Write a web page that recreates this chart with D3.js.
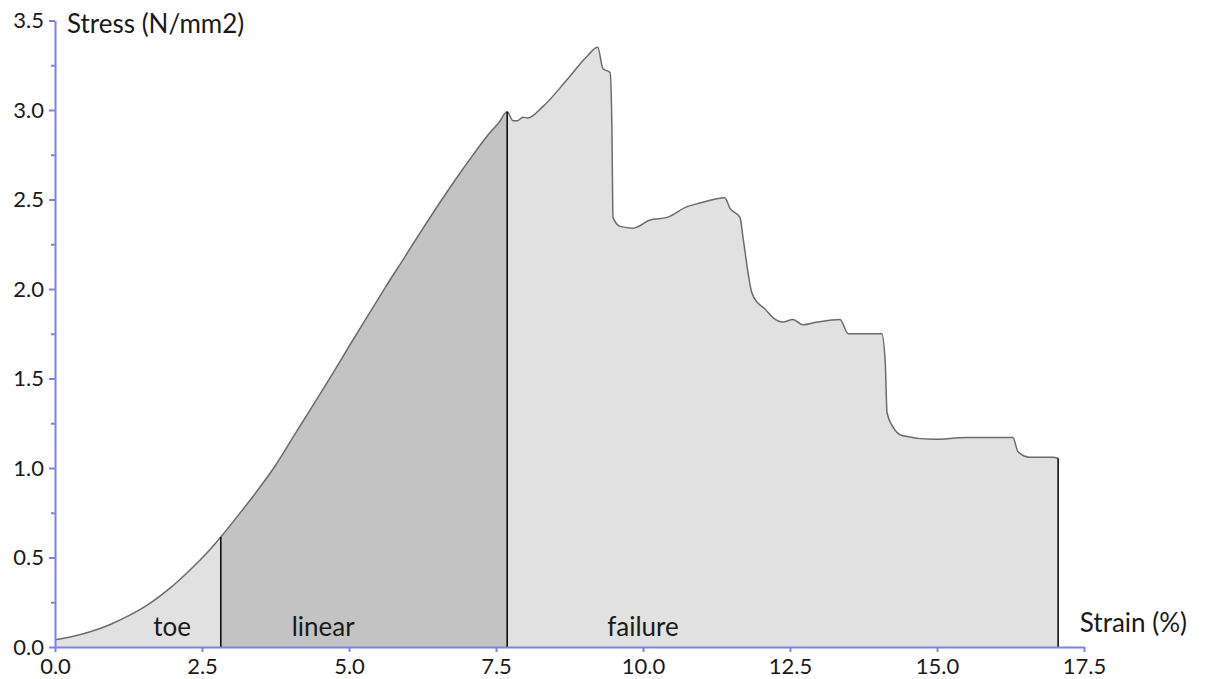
<!DOCTYPE html>
<html>
<head>
<meta charset="utf-8">
<script src="https://cdn.jsdelivr.net/npm/d3@7"></script>
<style>
  html, body { margin: 0; padding: 0; background: #fff; }
  svg { display: block; }
  text { font-family: Lato, "Open Sans", sans-serif; fill: #1a1a1a; }
</style>
</head>
<body>
<svg id="chart" width="1206" height="679"></svg>
<script>
// ---- data ----
const strain = [0.0, 0.26, 0.60, 0.94, 1.28, 1.62, 1.96, 2.30, 2.59, 2.82,
  3.15, 3.49, 3.74, 4.12, 4.34, 4.68, 5.02, 5.30, 5.61, 5.95, 6.25, 6.60, 6.85, 7.10, 7.35, 7.55, 7.69,
  7.79, 7.86, 7.96, 8.04, 8.30, 8.71, 9.05, 9.23, 9.32, 9.44, 9.47, 9.49, 9.61, 9.83, 10.12, 10.41,
  10.75, 10.97, 11.39, 11.48, 11.65, 11.70, 11.85, 11.96, 12.07, 12.21, 12.38, 12.55, 12.72, 12.96,
  13.35, 13.49, 13.69, 14.06, 14.12, 14.15, 14.25, 14.42, 14.93, 15.51, 15.95, 16.29, 16.38, 16.58,
  16.97, 17.06];
const stress = [0.04, 0.056, 0.085, 0.126, 0.179, 0.245, 0.33, 0.432, 0.528, 0.615,
  0.75, 0.895, 1.01, 1.21, 1.325, 1.505, 1.69, 1.84, 2.005, 2.18, 2.335, 2.51, 2.63, 2.745, 2.855, 2.93, 2.99,
  2.94, 2.94, 2.96, 2.955, 3.02, 3.17, 3.30, 3.35, 3.23, 3.21, 2.93, 2.40, 2.35, 2.34, 2.385, 2.40,
  2.46, 2.48, 2.51, 2.45, 2.40, 2.29, 1.98, 1.92, 1.89, 1.84, 1.815, 1.83, 1.80, 1.815,
  1.83, 1.75, 1.75, 1.75, 1.59, 1.31, 1.23, 1.18, 1.16, 1.17, 1.17, 1.17, 1.09, 1.06,
  1.06, 1.055];
const regionNames = ["toe", "linear", "failure"];
const regionBounds = [0.0, 2.82, 7.69, 17.06];
const regionLabelX = [1.99, 4.56, 10.0];
const xTicks = [0.0, 2.5, 5.0, 7.5, 10.0, 12.5, 15.0, 17.5];
const yTicks = [0.0, 0.5, 1.0, 1.5, 2.0, 2.5, 3.0, 3.5];
const yMinorTicks = [0.25, 0.75, 1.25, 1.75, 2.25, 2.75, 3.25];
const xTitle = "Strain (%)";
const yTitle = "Stress (N/mm2)";

// ---- layout ----
const svg = d3.select("#chart");
const x = d3.scaleLinear().domain([0, 17.5]).range([55, 1084]);
const y = d3.scaleLinear().domain([0, 3.5]).range([647, 20.5]);
const axisColor = "#7f7ff5";
const regionFill = ["#e1e1e1", "#c3c3c3", "#e1e1e1"];
const curve = d3.curveMonotoneX;

const pts = strain.map((s, i) => ({ x: s, y: stress[i] }));

const area = d3.area().curve(curve).x(d => x(d.x)).y0(y(0)).y1(d => y(d.y));
const line = d3.line().curve(curve).x(d => x(d.x)).y(d => y(d.y));

// regions
regionNames.forEach((name, i) => {
  const lo = regionBounds[i], hi = regionBounds[i + 1];
  const seg = pts.filter(d => d.x >= lo - 1e-9 && d.x <= hi + 1e-9);
  svg.append("path").datum(seg).attr("d", area)
    .attr("fill", regionFill[i]).attr("stroke", "none");
});

// curve
svg.append("path").datum(pts).attr("d", line)
  .attr("fill", "none").attr("stroke", "#6b6b6b").attr("stroke-width", 1.5)
  .attr("stroke-linejoin", "round");

// region dividers
regionBounds.slice(1).forEach(b => {
  const p = pts.find(d => Math.abs(d.x - b) < 1e-9);
  svg.append("line")
    .attr("x1", x(b)).attr("x2", x(b))
    .attr("y1", y(0)).attr("y2", y(p.y))
    .attr("stroke", "#000").attr("stroke-width", 1.5);
});

// region labels
regionNames.forEach((name, i) => {
  svg.append("text").attr("x", x(regionLabelX[i])).attr("y", y(0) - 11)
    .attr("text-anchor", "middle").attr("font-size", 26).text(name);
});

// axes
const xAxis = d3.axisBottom(x).tickValues(xTicks).tickFormat(d3.format(".1f"))
  .tickSizeInner(5).tickSizeOuter(0).tickPadding(6);
const gx = svg.append("g").attr("transform", `translate(0,${y(0)})`).call(xAxis);
gx.select(".domain").attr("stroke", axisColor).attr("stroke-width", 2);
gx.selectAll(".tick line").attr("stroke", axisColor).attr("stroke-width", 2);
gx.selectAll(".tick text").attr("font-size", 22).attr("font-family", "Lato, sans-serif").attr("fill", "#1a1a1a");

const yAxis = d3.axisLeft(y).tickValues(yTicks).tickFormat(d3.format(".1f"))
  .tickSizeInner(6).tickSizeOuter(0).tickPadding(5);
const gy = svg.append("g").attr("transform", `translate(${x(0)},0)`).call(yAxis);
gy.select(".domain").attr("stroke", axisColor).attr("stroke-width", 2);
gy.selectAll(".tick line").attr("stroke", axisColor).attr("stroke-width", 2);
gy.selectAll(".tick text").attr("font-size", 22).attr("font-family", "Lato, sans-serif").attr("fill", "#1a1a1a");

const yMinor = d3.axisLeft(y).tickValues(yMinorTicks).tickFormat("").tickSizeInner(4).tickSizeOuter(0);
const gym = svg.append("g").attr("transform", `translate(${x(0)},0)`).call(yMinor);
gym.select(".domain").remove();
gym.selectAll(".tick line").attr("stroke", axisColor).attr("stroke-width", 2);

// axis titles
svg.append("text").attr("x", x(0) + 12).attr("y", y(3.5) + 12)
  .attr("font-size", 26).text(yTitle);
svg.append("text").attr("x", x(17.5) + 103).attr("y", y(0) - 15)
  .attr("text-anchor", "end").attr("font-size", 26).text(xTitle);
</script>
</body>
</html>
